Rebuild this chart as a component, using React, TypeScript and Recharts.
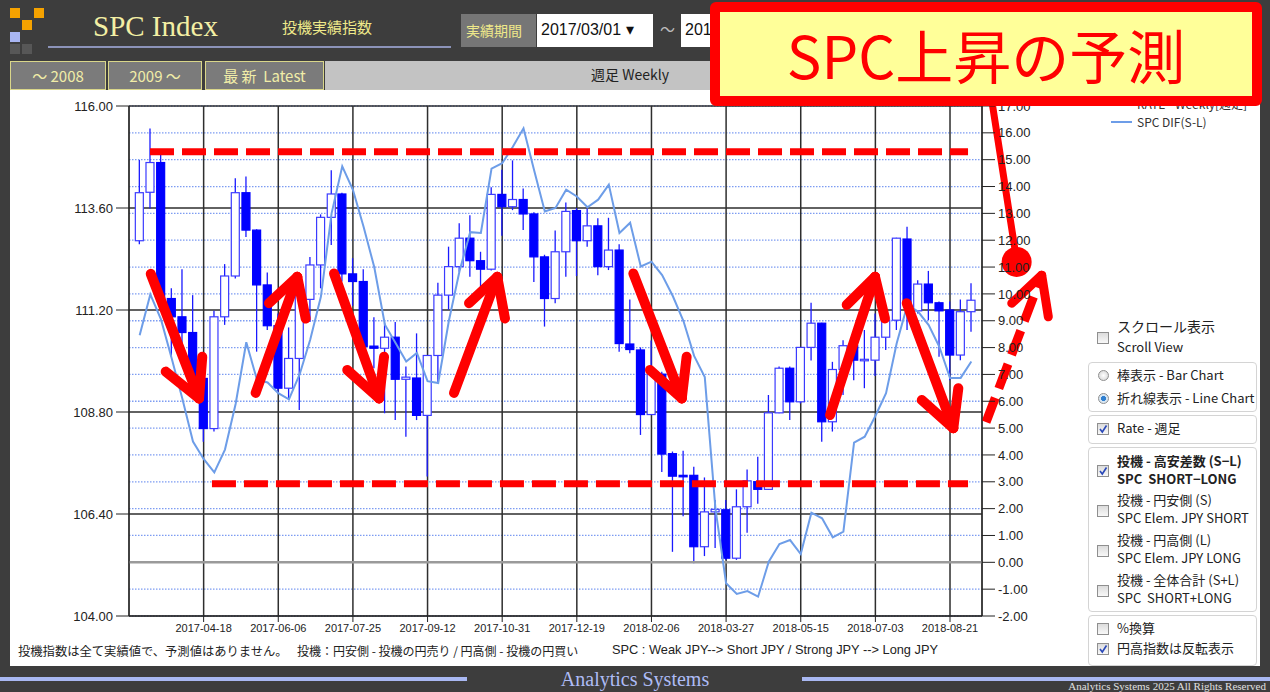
import React from "react";
import {
  ComposedChart,
  Bar,
  Line,
  XAxis,
  YAxis,
  CartesianGrid,
  ReferenceLine,
  ReferenceDot,
} from "recharts";

// ---- data (weekly, first week 2017-03-07) ----
const FIRST_WEEK = "2017-03-07";
const OPEN = [
  112.83, 113.97, 114.67, 111.47, 111.04, 110.67, 109.59, 108.41, 111.04, 112.0,
  113.96, 113.08, 111.79, 110.83, 109.36, 110.06, 111.45, 112.26, 113.38, 113.93,
  112.05, 111.87, 110.35, 110.3, 110.56, 109.57, 109.6, 108.72, 110.13, 111.55,
  112.22, 112.89, 112.36, 112.16, 113.92, 113.63, 113.8, 113.46, 112.45, 111.47,
  112.57, 113.54, 112.83, 113.18, 112.22, 112.61, 110.4, 110.26, 108.74, 109.69,
  107.82, 107.31, 107.31, 105.63, 106.45, 106.5, 105.36, 106.57, 107.16, 106.98,
  108.78, 109.83, 109.04, 110.32, 110.89, 108.57, 109.8, 110.36, 110.02, 110.02,
  110.56, 110.96, 112.87, 111.18, 111.81, 111.37, 111.2, 110.14, 111.16,
];
const HIGH = [
  114.73, 115.47, 114.85, 111.71, 112.16, 111.55, 109.87, 111.18, 112.28, 114.3,
  114.34, 113.1, 112.08, 111.12, 110.79, 111.67, 112.45, 113.45, 114.49, 113.96,
  112.42, 112.16, 111.03, 110.89, 110.92, 109.87, 110.65, 110.13, 111.84, 112.69,
  113.24, 113.43, 112.57, 114.09, 114.5, 114.72, 114.06, 113.5, 112.5, 113.07,
  113.73, 113.6, 113.59, 113.36, 113.37, 112.75, 111.45, 110.32, 110.48, 109.75,
  107.87, 107.89, 107.51, 107.26, 106.73, 106.73, 106.98, 107.45, 107.75, 109.2,
  109.87, 109.87, 110.32, 111.37, 110.9, 109.98, 110.49, 110.4, 110.73, 111.12,
  111.28, 112.9, 113.16, 111.9, 112.12, 111.4, 111.4, 111.45, 111.83,
];
const LOW = [
  112.75, 113.59, 111.35, 110.1, 110.02, 109.47, 108.1, 108.34, 110.85, 111.94,
  112.92, 110.22, 110.73, 109.24, 109.1, 108.85, 110.92, 111.71, 112.73, 111.87,
  111.3, 110.18, 109.83, 108.77, 108.61, 108.22, 108.61, 107.28, 109.47, 111.21,
  112.1, 111.98, 111.71, 112.13, 112.95, 113.55, 113.08, 111.86, 110.81, 111.36,
  111.98, 112.0, 112.69, 112.02, 112.14, 110.22, 110.18, 108.26, 108.73, 107.39,
  105.51, 106.35, 105.24, 105.41, 105.6, 105.32, 105.32, 105.96, 106.64, 106.97,
  108.77, 108.61, 109.0, 110.01, 108.1, 108.34, 109.2, 109.55, 109.36, 109.65,
  110.26, 110.73, 110.73, 111.12, 110.96, 110.1, 109.55, 110.02, 110.69,
];
const CLOSE = [
  113.96, 114.67, 111.47, 111.04, 110.67, 109.59, 108.41, 111.04, 112.0, 113.96,
  113.08, 111.79, 110.83, 109.36, 110.06, 111.55, 112.26, 113.38, 113.93, 112.05,
  111.87, 110.34, 110.3, 110.56, 109.57, 109.62, 108.72, 110.13, 111.55, 112.22,
  112.89, 112.36, 112.16, 113.92, 113.63, 113.8, 113.46, 112.45, 111.47, 112.57,
  113.52, 112.83, 113.18, 112.22, 112.61, 110.41, 110.27, 108.74, 109.69, 107.81,
  107.29, 107.29, 105.63, 106.45, 106.51, 105.36, 106.57, 107.18, 106.98, 108.78,
  109.83, 109.04, 110.32, 110.89, 108.57, 109.8, 110.36, 110.02, 110.04, 110.56,
  110.96, 112.89, 111.36, 111.81, 111.37, 111.18, 110.14, 111.16, 111.43,
];
const SPC_DIF = [
  8.46, 9.98, 9.05, 7.6, 6.1, 4.5, 3.85, 3.35, 4.2, 5.9,
  8.2, 6.8, 6.7, 6.3, 6.07, 7.0, 8.3, 9.9, 13.0, 14.75,
  13.88, 12.5, 11.0, 8.85, 8.17, 7.48, 7.8, 6.75, 6.68, 9.0,
  10.85, 12.3, 12.27, 14.67, 14.87, 15.48, 16.17, 14.6, 13.07, 13.2,
  13.88, 13.63, 13.23, 13.51, 14.07, 12.27, 12.65, 11.02, 11.2, 10.7,
  9.92, 8.99, 7.69, 6.9, 2.0, -0.78, -1.18, -1.07, -1.28, 0.02,
  0.68, 0.83, 0.31, 1.85, 1.64, 0.93, 1.14, 4.46, 4.68, 5.45,
  6.3, 8.16, 9.59, 9.34, 8.84, 8.03, 6.87, 6.87, 7.48,
];

const X_TICK_INDEX = [6, 13, 20, 27, 34, 41, 48, 55, 62, 69, 76];
const X_TICK_LABELS = [
  "2017-04-18", "2017-06-06", "2017-07-25", "2017-09-12", "2017-10-31",
  "2017-12-19", "2018-02-06", "2018-03-27", "2018-05-15", "2018-07-03", "2018-08-21",
];
const RATE_TICKS = [104, 106.4, 108.8, 111.2, 113.6, 116];
const DIF_TICKS = [-2, -1, 0, 1, 2, 3, 4, 5, 6, 7, 8, 9, 10, 11, 12, 13, 14, 15, 16, 17];

// ---- annotation overlay (data coordinates: week index, rate) ----
const RESIST_LEVEL = 15.3;
const SUPPORT_LEVEL = 2.93;
const RESIST_RANGE = [0.97, 77.69];
const SUPPORT_RANGE = [6.78, 77.69];
const TREND_ARROWS = [
  { from: [1.04, 112.05], to: [5.57, 109.12], w1: [2.44, 109.75], w2: [5.87, 110.1] },
  { from: [10.88, 109.25], to: [14.78, 111.98], w1: [12.13, 111.36], w2: [15.57, 111.0] },
  { from: [18.23, 112.06], to: [22.45, 109.12], w1: [19.47, 109.79], w2: [22.92, 110.1] },
  { from: [29.48, 109.25], to: [33.54, 111.98], w1: [30.89, 111.36], w2: [34.26, 111.0] },
  { from: [46.3, 112.06], to: [50.84, 109.12], w1: [47.86, 109.79], w2: [51.3, 110.1] },
  { from: [64.75, 108.73], to: [68.97, 111.98], w1: [66.31, 111.32], w2: [69.9, 111.0] },
  { from: [71.94, 111.36], to: [76.31, 108.42], w1: [73.35, 109.08], w2: [76.78, 109.36] },
];
const FORECAST_ARROW = { from: [79.38, 108.56], to: [84.6, 112.02], w1: [81.79, 111.36], w2: [85.22, 111.04] };
const POINTER = { from: [79.91, 116.14], to: [82.1, 112.61], dot: [82.25, 112.33] };

const data = OPEN.map((o, i) => ({
  i,
  open: o,
  high: HIGH[i],
  low: LOW[i],
  close: CLOSE[i],
  dif: SPC_DIF[i],
}));

const RED = "#ff0000";
const SANS = "'Liberation Sans', Arial, sans-serif";
const JP = "'Noto Sans CJK JP', 'Noto Sans', sans-serif";

const Candle = (props: any) => {
  const { x, y, width, height, payload } = props;
  if (x == null || y == null || !payload) return <g />;
  const h = Math.abs(height);
  const top = height >= 0 ? y : y + height;
  const range = payload.high - payload.low;
  const ratio = range === 0 ? 0 : h / range;
  const yOf = (v: number) => top + (payload.high - v) * ratio;
  const up = payload.close >= payload.open;
  const bTop = yOf(Math.max(payload.open, payload.close));
  const bBot = yOf(Math.min(payload.open, payload.close));
  const cx = x + width / 2;
  return (
    <g>
      <line x1={cx} x2={cx} y1={top} y2={top + h} stroke="#1a1aff" strokeWidth={1.3} />
      <rect
        x={x}
        y={bTop}
        width={width}
        height={Math.max(1.5, bBot - bTop)}
        fill={up ? "#ffffff" : "#0000ff"}
        stroke={up ? "#3b3bff" : "#0000ff"}
        strokeWidth={1.2}
      />
    </g>
  );
};

const seg = (a: number[], b: number[]) => [
  { x: a[0], y: a[1] },
  { x: b[0], y: b[1] },
];

const Check = ({ left, top, checked }: { left: number; top: number; checked?: boolean }) => (
  <div
    style={{
      position: "absolute",
      left,
      top,
      width: 12,
      height: 12,
      boxSizing: "border-box",
      border: "1px solid #8f8f8f",
      background: "linear-gradient(#dcdcdc, #f8f8f8)",
    }}
  >
    {checked && (
      <svg width={10} height={10} style={{ position: "absolute", left: 0, top: 0 }}>
        <path d="M2 5 L4.3 8 L8.5 1.5" stroke="#2a48b8" strokeWidth={1.6} fill="none" />
      </svg>
    )}
  </div>
);

const Radio = ({ left, top, checked }: { left: number; top: number; checked?: boolean }) => (
  <div
    style={{
      position: "absolute",
      left,
      top,
      width: 11,
      height: 11,
      borderRadius: "50%",
      boxSizing: "border-box",
      border: "1px solid #8f8f8f",
      background: checked ? "radial-gradient(#2f7fd0 0 35%, #d8e6f2 45%)" : "radial-gradient(#ffffff, #cfcfcf)",
    }}
  />
);

const T = ({ left, top, children, bold, size = 13, color = "#222", font = JP, lh }: any) => (
  <div
    style={{
      position: "absolute",
      left,
      top,
      fontSize: size,
      lineHeight: `${lh ?? size + 4}px`,
      fontWeight: bold ? 700 : 400,
      color,
      fontFamily: font,
      whiteSpace: "nowrap",
    }}
  >
    {children}
  </div>
);

const GroupBox = ({ top, height }: { top: number; height: number }) => (
  <div
    style={{
      position: "absolute",
      left: 1088,
      top,
      width: 169,
      height,
      boxSizing: "border-box",
      border: "1px solid #d4d4d4",
      borderRadius: 4,
      background: "#fff",
    }}
  />
);

export default function App() {
  const arrowProps = {
    yAxisId: "left",
    stroke: RED,
    strokeWidth: 10,
    strokeLinecap: "round" as const,
    ifOverflow: "visible" as const,
  };
  return (
    <div
      style={{
        position: "absolute",
        left: 0,
        top: 0,
        width: 1270,
        height: 692,
        overflow: "hidden",
        background: "#3d3d3d",
        fontFamily: SANS,
      }}
    >
      {/* logo */}
      {[
        [10, 8, "#f5a200"],
        [34, 8, "#f5a200"],
        [22, 20, "#f5a200"],
        [10, 32, "#a9b6f2"],
        [10, 44, "#575757"],
        [22, 44, "#575757"],
      ].map((s: any, k) => (
        <div key={k} style={{ position: "absolute", left: s[0], top: s[1], width: 10, height: 10, background: s[2] }} />
      ))}
      <div style={{ position: "absolute", left: 93, top: 10, fontFamily: "'Liberation Serif', serif", fontSize: 29, color: "#f3efa4" }}>
        SPC Index
      </div>
      <div style={{ position: "absolute", left: 48, top: 46, width: 403, height: 2, background: "#8c93b9" }} />
      <T left={282} top={17} size={15} color="#efe98a">投機実績指数</T>
      <div style={{ position: "absolute", left: 461, top: 14, width: 75, height: 33, background: "#767676" }} />
      <T left={466} top={21} size={14} color="#efe98a">実績期間</T>
      <div style={{ position: "absolute", left: 537, top: 14, width: 116, height: 33, background: "#fff" }} />
      <T left={541} top={20} size={16} color="#111" font={SANS}>2017/03/01 ▾</T>
      <T left={660} top={19} size={15} color="#bbb">～</T>
      <div style={{ position: "absolute", left: 681, top: 14, width: 120, height: 33, background: "#fff" }} />
      <T left={685} top={20} size={16} color="#111" font={SANS}>2018/09/04</T>

      {/* button row */}
      <div style={{ position: "absolute", left: 325, top: 61, width: 935, height: 29, background: "#c3c3c3" }} />
      {[
        [10, 96, "～ 2008"],
        [108, 94, "2009 ～"],
        [205, 119, "最 新  Latest"],
      ].map((b: any, k) => (
        <div
          key={k}
          style={{
            position: "absolute",
            left: b[0],
            top: 61,
            width: b[1],
            height: 29,
            boxSizing: "border-box",
            border: "1px solid #d9d68a",
            background: "#7b7b7b",
            color: "#f1eda8",
            fontFamily: JP,
            fontSize: 15,
            lineHeight: "27px",
            textAlign: "center",
            whiteSpace: "pre",
          }}
        >
          {b[2]}
        </div>
      ))}
      <T left={591} top={65} size={14} color="#222">週足 Weekly</T>

      {/* white content area */}
      <div style={{ position: "absolute", left: 10, top: 90, width: 1250, height: 576, background: "#fff" }} />

      {/* chart */}
      <div style={{ position: "absolute", left: 10, top: 90 }}>
        <ComposedChart
          width={1248}
          height={576}
          data={data}
          margin={{ top: 16, right: 216, bottom: 20, left: 0 }}
        >
          <CartesianGrid
            yAxisId="right"
            vertical={false}
            stroke="#7d9cf2"
            strokeWidth={1.3}
            strokeDasharray="1.5 1.5"
          />
          <CartesianGrid yAxisId="left" stroke="#2e2e2e" strokeWidth={1.5} />
          <XAxis
            dataKey="i"
            type="number"
            domain={[-1, 79]}
            allowDataOverflow
            ticks={X_TICK_INDEX}
            tickFormatter={(v: number) => X_TICK_LABELS[X_TICK_INDEX.indexOf(v)] ?? ""}
            height={30}
            tickSize={6}
            tickMargin={2}
            stroke="#222"
            tick={{ fill: "#222", fontSize: 11, fontFamily: SANS }}
            interval={0}
          />
          <YAxis
            yAxisId="left"
            orientation="left"
            width={119}
            domain={[104, 116]}
            allowDataOverflow
            ticks={RATE_TICKS}
            interval={0}
            tickFormatter={(v: number) => v.toFixed(2)}
            tickSize={13}
            tickMargin={3}
            stroke="#222"
            tick={{ fill: "#222", fontSize: 13, fontFamily: SANS }}
          />
          <YAxis
            yAxisId="right"
            orientation="right"
            width={60}
            domain={[-2, 17]}
            allowDataOverflow
            ticks={DIF_TICKS}
            interval={0}
            tickFormatter={(v: number) => v.toFixed(2)}
            tickSize={13}
            tickMargin={3}
            stroke="#222"
            tick={{ fill: "#222", fontSize: 13, fontFamily: SANS }}
          />
          <ReferenceLine yAxisId="right" y={0} stroke="#9a9a9a" strokeWidth={2.5} />
          <Bar
            yAxisId="left"
            dataKey={(d: any) => [d.low, d.high]}
            barSize={8}
            shape={(p: any) => <Candle {...p} />}
            isAnimationActive={false}
          />
          <Line
            yAxisId="right"
            dataKey="dif"
            stroke="#6d9de8"
            strokeWidth={2}
            dot={false}
            activeDot={false}
            isAnimationActive={false}
          />
          <ReferenceLine
            yAxisId="right"
            segment={[{ x: RESIST_RANGE[0], y: RESIST_LEVEL }, { x: RESIST_RANGE[1], y: RESIST_LEVEL }]}
            stroke={RED}
            strokeWidth={7}
            strokeDasharray="24 8"
            ifOverflow="visible"
          />
          <ReferenceLine
            yAxisId="right"
            segment={[{ x: SUPPORT_RANGE[0], y: SUPPORT_LEVEL }, { x: SUPPORT_RANGE[1], y: SUPPORT_LEVEL }]}
            stroke={RED}
            strokeWidth={7}
            strokeDasharray="24 8"
            ifOverflow="visible"
          />
          {TREND_ARROWS.flatMap((a, k) => [
            <ReferenceLine key={`s${k}`} {...arrowProps} segment={seg(a.from, a.to)} />,
            <ReferenceLine key={`a${k}`} {...arrowProps} segment={seg(a.w1, a.to)} />,
            <ReferenceLine key={`b${k}`} {...arrowProps} segment={seg(a.w2, a.to)} />,
          ])}
          <ReferenceLine {...arrowProps} strokeWidth={9} strokeLinecap="butt" strokeDasharray="26 10" segment={seg(FORECAST_ARROW.from, FORECAST_ARROW.to)} />
          <ReferenceLine {...arrowProps} strokeWidth={9} segment={seg(FORECAST_ARROW.w1, FORECAST_ARROW.to)} />
          <ReferenceLine {...arrowProps} strokeWidth={9} segment={seg(FORECAST_ARROW.w2, FORECAST_ARROW.to)} />
          <ReferenceLine {...arrowProps} strokeWidth={7} segment={seg(POINTER.from, POINTER.to)} />
          <ReferenceDot
            yAxisId="left"
            x={POINTER.dot[0]}
            y={POINTER.dot[1]}
            r={15}
            fill={RED}
            stroke="none"
            ifOverflow="visible"
          />
        </ComposedChart>
      </div>

      {/* legend */}
      <T left={1137} top={97} size={12} lh={14} color="#333">RATE - Weekly[週足]</T>
      <div style={{ position: "absolute", left: 1111, top: 121, width: 21, height: 2, background: "#6d9de8" }} />
      <T left={1137} top={115} size={12} lh={14} color="#333">SPC DIF(S-L)</T>

      {/* controls */}
      <Check left={1097} top={332} />
      <T left={1117} top={317} size={14}>スクロール表示</T>
      <T left={1117} top={338} size={13}>Scroll View</T>

      <GroupBox top={362} height={50} />
      <Radio left={1098} top={370} />
      <T left={1117} top={366}>棒表示 - Bar Chart</T>
      <Radio left={1098} top={393} checked />
      <T left={1117} top={389}>折れ線表示 - Line Chart</T>

      <GroupBox top={415} height={29} />
      <Check left={1097} top={423} checked />
      <T left={1117} top={419}>Rate - 週足</T>

      <GroupBox top={447} height={165} />
      <Check left={1097} top={465} checked />
      <T left={1117} top={452} bold>投機 - 高安差数 (S−L)</T>
      <T left={1117} top={470} bold>SPC&nbsp;&nbsp;SHORT−LONG</T>
      <Check left={1097} top={505} />
      <T left={1117} top={491}>投機 - 円安側 (S)</T>
      <T left={1117} top={509}>SPC Elem. JPY SHORT</T>
      <Check left={1097} top={545} />
      <T left={1117} top={531}>投機 - 円高側 (L)</T>
      <T left={1117} top={549}>SPC Elem. JPY LONG</T>
      <Check left={1097} top={585} />
      <T left={1117} top={571}>投機 - 全体合計 (S+L)</T>
      <T left={1117} top={589}>SPC&nbsp;&nbsp;SHORT+LONG</T>

      <GroupBox top={615} height={51} />
      <Check left={1097} top={623} />
      <T left={1117} top={619}>%換算</T>
      <Check left={1097} top={643} checked />
      <T left={1117} top={639}>円高指数は反転表示</T>

      {/* footnote */}
      <T left={18} top={643} size={12.3}>投機指数は全て実績値で、予測値はありません。</T>
      <T left={297} top={643} size={12}>投機：円安側 - 投機の円売り / 円高側 - 投機の円買い</T>
      <T left={612} top={642} size={12.8} font={SANS}>SPC : Weak JPY--&gt; Short JPY / Strong JPY --&gt; Long JPY</T>

      {/* bottom bar */}
      <div style={{ position: "absolute", left: 0, top: 677, width: 467, height: 4, background: "#a9b8f2" }} />
      <div style={{ position: "absolute", left: 802, top: 677, width: 468, height: 4, background: "#a9b8f2" }} />
      <div style={{ position: "absolute", left: 0, top: 668, width: 1270, textAlign: "center", fontFamily: "'Liberation Serif', serif", fontSize: 20, color: "#aebcf6" }}>
        Analytics Systems
      </div>
      <div style={{ position: "absolute", right: 4, top: 680, fontFamily: "'Liberation Serif', serif", fontSize: 11, color: "#e0e0e0", whiteSpace: "nowrap" }}>
        Analytics Systems 2025 All Rights Reserved
      </div>

      {/* callout */}
      <div
        style={{
          position: "absolute",
          left: 710,
          top: 2,
          width: 552,
          height: 104,
          boxSizing: "border-box",
          border: `10px solid ${RED}`,
          borderRadius: 6,
          background: "#ffff99",
          color: RED,
          fontFamily: JP,
          fontSize: 58,
          lineHeight: "84px",
          textAlign: "center",
          whiteSpace: "nowrap",
        }}
      >
        SPC上昇の予測
      </div>
    </div>
  );
}
